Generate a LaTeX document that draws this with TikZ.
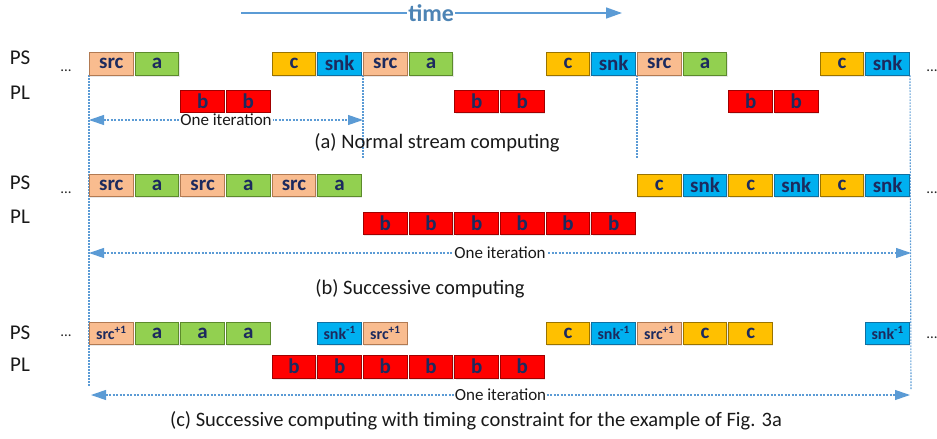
\documentclass[tikz,border=0pt]{standalone}
\usepackage{fontspec}
\setmainfont{Carlito}
\usetikzlibrary{arrows.meta,shadows,backgrounds}
\definecolor{srcF}{HTML}{F9BC8F}\definecolor{srcD}{HTML}{B27A52}
\definecolor{aF}{HTML}{92D050}\definecolor{aD}{HTML}{5C8A2C}
\definecolor{cF}{HTML}{FFC000}\definecolor{cD}{HTML}{9A7300}
\definecolor{snkF}{HTML}{00B0F0}\definecolor{snkD}{HTML}{106FA0}
\definecolor{bF}{HTML}{FF0000}\definecolor{bD}{HTML}{A00000}
\definecolor{navy}{HTML}{1C2A5E}
\definecolor{lblue}{HTML}{5B9BD5}
\begin{document}
\begin{tikzpicture}[x=1pt,y=-1pt,
  box/.style={anchor=north west,minimum width=43.7pt,minimum height=22.5pt,inner sep=0pt,
    draw,line width=0.9pt,text=navy,font=\bfseries\fontsize{21}{21}\selectfont,
    drop shadow={opacity=0.18,shadow xshift=0.8pt,shadow yshift=-1.8pt}},
  ksrc/.style={fill=srcF,draw=srcD},
  ksrcp/.style={fill=srcF,draw=srcD,font=\bfseries\fontsize{16}{16}\selectfont},
  ka/.style={fill=aF,draw=aD},
  kc/.style={fill=cF,draw=cD},
  ksnk/.style={fill=snkF,draw=snkD},
  ksnkm/.style={fill=snkF,draw=snkD,font=\bfseries\fontsize{16}{16}\selectfont},
  kb/.style={fill=bF,draw=bD},
  rowlbl/.style={font=\fontsize{21}{21}\selectfont,text=black!90},
  dots/.style={anchor=base,font=\fontsize{15}{15}\selectfont,text=black!85},
  captxt/.style={font=\fontsize{20.5}{20.5}\selectfont,text=black!90},
  vline/.style={draw=lblue,line width=1.1pt,dash pattern=on 1.6pt off 1.4pt},
  iter/.style={draw=lblue,line width=1.1pt,dash pattern=on 2pt off 1.5pt,
    {Triangle[length=15pt,width=10pt]}-{Triangle[length=15pt,width=10pt]}},
  itlbl/.style={fill=white,inner sep=1pt,text=black!90,font=\fontsize{17}{17}\selectfont}
]
\useasboundingbox (0,0) rectangle (937,439);
\def\P{45.67}
% time arrow
\coordinate (t0) at (241,13);
\coordinate (t1) at (622,13);
\draw[draw=lblue,line width=1.5pt,-{Triangle[length=16pt,width=11pt]}] (t0) -- (t1)
  node[pos=0.499,fill=white,inner sep=1pt,text=lblue!85!black,font=\bfseries\fontsize{24}{24}\selectfont] (time) {time};
% row labels
\node[rowlbl] (psA) at (20,58) {PS};
\node[rowlbl] (plA) at (20,93) {PL};
\node[rowlbl] (psB) at (20,183) {PS};
\node[rowlbl] (plB) at (20,217) {PL};
\node[rowlbl] (psC) at (20,333) {PS};
\node[rowlbl] (plC) at (20,365) {PL};
\node[dots] (dA0) at (66,71) {...};
\node[dots] (dA1) at (932,71) {...};
\node[dots] (dB0) at (66,193) {...};
\node[dots] (dB1) at (932,193) {...};
\node[dots] (dC0) at (66,336) {...};
\node[dots] (dC1) at (932,338) {...};
% (a)
\foreach \i/\k/\t in {0/src/src,1/a/a,4/c/c,5/snk/snk,6/src/src,7/a/a,10/c/c,11/snk/snk,12/src/src,13/a/a,16/c/c,17/snk/snk}
  {\node[box,k\k] (A\i) at ({89+\i*\P},52) {\t};}
\foreach \i in {2,3,8,9,14,15}
  {\node[box,kb] (AL\i) at ({89+\i*\P},89.5) {b};}
% (b)
\foreach \i/\k/\t in {0/src/src,1/a/a,2/src/src,3/a/a,4/src/src,5/a/a,12/c/c,13/snk/snk,14/c/c,15/snk/snk,16/c/c,17/snk/snk}
  {\node[box,k\k] (B\i) at ({89+\i*\P},173.5) {\t};}
\foreach \i in {6,...,11}
  {\node[box,kb] (BL\i) at ({89+\i*\P},211.5) {b};}
% (c)
\foreach \i/\k/\t in {0/srcp/{src\textsuperscript{+1}},1/a/a,2/a/a,3/a/a,5/snkm/{snk\textsuperscript{-1}},6/srcp/{src\textsuperscript{+1}},10/c/c,11/snkm/{snk\textsuperscript{-1}},12/srcp/{src\textsuperscript{+1}},13/c/c,14/c/c,17/snkm/{snk\textsuperscript{-1}}}
  {\node[box,k\k] (C\i) at ({89+\i*\P},321.5) {\t};}
\foreach \i in {4,...,9}
  {\node[box,kb] (CL\i) at ({89+\i*\P},355) {b};}
% vertical dotted lines
\coordinate (v0) at (89,386);
\coordinate (v1) at (911,390);
\coordinate (v2) at (A6.south west |- 0,158);
\coordinate (v3) at (A12.south west |- 0,158);
\begin{scope}[on background layer]
\draw[vline] (A0.south west) -- (v0);
\draw[vline] (A17.south east) -- (v1);
\draw[vline] (A6.south west) -- (v2);
\draw[vline] (A12.south west) -- (v3);
\end{scope}
% iteration arrows
\coordinate (ia0) at (89,120); \coordinate (ia1) at (363,120);
\coordinate (ib0) at (89,253); \coordinate (ib1) at (911,253);
\coordinate (ic0) at (91,395); \coordinate (ic1) at (910,395);
\draw[iter] (ia0) -- node[itlbl] (la) {One iteration} (ia1);
\draw[iter] (ib0) -- node[itlbl] (lb) {One iteration} (ib1);
\draw[iter] (ic0) -- node[itlbl] (lc) {One iteration} (ic1);
% captions
\node[captxt] (capA) at (437,143) {(a) Normal stream computing};
\node[captxt] (capB) at (420,289) {(b) Successive computing};
\node[captxt] (capC) at (476,421) {(c) Successive computing with timing constraint for the example of Fig. 3a};
\end{tikzpicture}
\end{document}
